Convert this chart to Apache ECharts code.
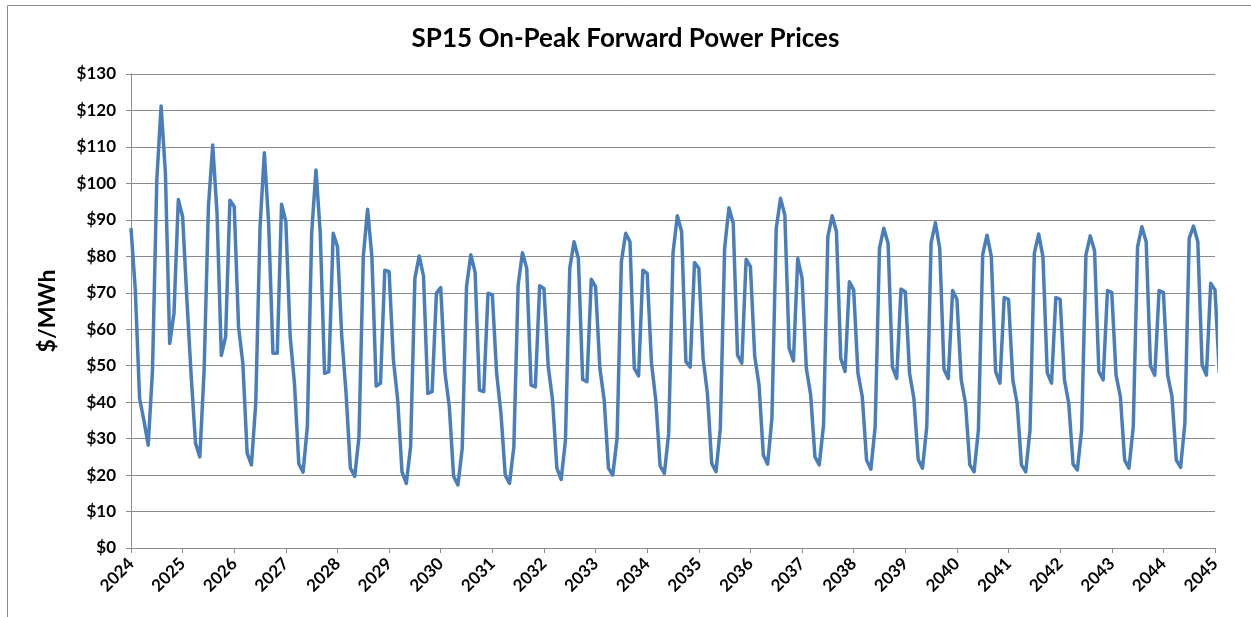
<!DOCTYPE html>
<html>
<head>
<meta charset="utf-8">
<title>SP15 On-Peak Forward Power Prices</title>
<script src="https://cdn.jsdelivr.net/npm/echarts@6/dist/echarts.min.js"></script>
<style>
  html, body { margin: 0; padding: 0; background: #fff; }
  #chart { width: 1251px; height: 617px; }
</style>
</head>
<body>
<div id="chart"></div>
<script>
const startYear = 2024
const endYear = 2045

// monthly on-peak prices, $/MWh, one row per year (Jan..Dec)
const monthlyPrices = [
  87.7, 70.8, 41.0, 35.0, 28.2, 48.8, 101.0, 121.2, 102.8, 56.1, 64.4, 95.6,  // 2024
  90.9, 68.0, 47.0, 28.7, 25.0, 48.8, 93.6, 110.5, 91.8, 52.8, 58.0, 95.4,    // 2025
  93.6, 60.7, 50.7, 26.0, 22.8, 39.7, 88.1, 108.4, 89.0, 53.4, 53.4, 94.3,    // 2026
  89.5, 58.0, 45.2, 23.2, 20.8, 33.3, 86.3, 103.7, 86.3, 47.9, 48.4, 86.3,    // 2027
  82.6, 58.0, 42.4, 21.9, 19.6, 30.5, 79.9, 92.9, 79.9, 44.4, 45.2, 76.2,     // 2028
  75.8, 51.6, 40.6, 20.9, 17.7, 27.8, 74.0, 80.1, 74.6, 42.4, 42.9, 69.9,     // 2029
  71.4, 47.9, 38.8, 19.6, 17.3, 27.3, 71.7, 80.4, 75.6, 43.3, 42.9, 69.9,     // 2030
  69.4, 47.9, 37.0, 20.0, 17.7, 27.8, 72.1, 81.0, 76.7, 44.7, 44.2, 71.9,     // 2031
  71.2, 49.7, 40.6, 21.9, 18.8, 29.6, 76.7, 84.0, 79.4, 46.2, 45.6, 73.7,     // 2032
  71.7, 49.3, 40.6, 21.9, 20.0, 30.1, 78.5, 86.3, 84.0, 49.3, 47.2, 76.2,     // 2033
  75.3, 50.7, 40.6, 22.5, 20.5, 31.5, 80.8, 91.1, 86.8, 51.1, 49.6, 78.3,     // 2034
  76.7, 52.0, 42.4, 23.2, 20.9, 32.8, 82.2, 93.3, 89.0, 52.9, 50.7, 79.2,     // 2035
  77.2, 52.5, 44.7, 25.5, 23.0, 35.6, 87.7, 95.9, 91.3, 54.8, 51.3, 79.4,     // 2036
  74.0, 49.3, 42.0, 25.0, 22.8, 33.7, 85.4, 91.1, 86.8, 52.0, 48.4, 73.0,     // 2037
  70.8, 47.9, 41.5, 24.1, 21.6, 33.3, 82.2, 87.7, 83.6, 49.7, 46.5, 71.0,     // 2038
  70.3, 47.9, 41.0, 24.3, 21.9, 33.3, 83.7, 89.2, 82.2, 49.0, 46.5, 70.6,     // 2039
  68.2, 46.1, 39.7, 22.8, 20.9, 32.4, 80.5, 85.8, 79.9, 48.4, 45.2, 68.7,     // 2040
  68.2, 46.1, 39.7, 22.8, 20.9, 32.4, 80.8, 86.1, 79.9, 48.1, 45.2, 68.7,     // 2041
  68.2, 46.1, 39.7, 23.0, 21.4, 32.4, 80.4, 85.6, 81.5, 48.4, 46.1, 70.6,     // 2042
  70.1, 47.4, 41.5, 24.1, 21.9, 33.3, 82.6, 88.1, 84.0, 49.9, 47.4, 70.6,     // 2043
  70.1, 47.4, 41.5, 24.1, 22.1, 34.2, 84.9, 88.3, 84.0, 50.2, 47.4, 72.6,     // 2044
  70.8, 48.0                                                                   // 2045
]

const yTicks = [0, 10, 20, 30, 40, 50, 60, 70, 80, 90, 100, 110, 120, 130]

const seriesData = monthlyPrices.map((v, i) => [i, v])
const gridGray = '#8c8c8c'
const fontFam = 'Lato, "Open Sans", sans-serif'

const chart = echarts.init(document.getElementById('chart'))
chart.setOption({
  animation: false,
  backgroundColor: '#fff',
  title: {
    text: 'SP15 On-Peak Forward Power Prices',
    left: 'center',
    top: 21,
    textStyle: { fontFamily: fontFam, fontWeight: 'bold', fontSize: 26, color: '#000' }
  },
  graphic: [{
    type: 'rect',
    shape: { x: 7.5, y: 5.5, width: 1400, height: 800 },
    style: { fill: 'none', stroke: gridGray, lineWidth: 1 },
    silent: true
  }],
  grid: { left: 131, right: 36, top: 74, bottom: 69 },
  xAxis: {
    type: 'value',
    min: 0,
    max: (endYear - startYear) * 12,
    interval: 12,
    splitLine: { show: false },
    axisLine: { show: true, lineStyle: { color: gridGray, width: 1 } },
    axisTick: { show: true, inside: false, length: 5, lineStyle: { color: gridGray } },
    axisLabel: {
      rotate: 45,
      margin: 13,
      hideOverlap: false,
      fontFamily: fontFam,
      fontWeight: 'bold',
      fontSize: 17,
      color: '#000',
      formatter: v => String(startYear + Math.round(v / 12))
    }
  },
  yAxis: {
    type: 'value',
    min: yTicks[0],
    max: yTicks[yTicks.length - 1],
    interval: 10,
    name: '$/MWh',
    nameLocation: 'middle',
    nameRotate: 90,
    nameGap: 72,
    nameTextStyle: { fontFamily: fontFam, fontWeight: 'bold', fontSize: 23, color: '#000' },
    axisLine: { show: true, lineStyle: { color: gridGray, width: 1 } },
    axisTick: { show: true, inside: false, length: 5, lineStyle: { color: gridGray } },
    splitLine: { show: true, lineStyle: { color: gridGray, width: 1 } },
    axisLabel: {
      margin: 15,
      fontFamily: fontFam,
      fontWeight: 'bold',
      fontSize: 17,
      color: '#000',
      formatter: v => '$' + v
    }
  },
  series: [{
    type: 'line',
    data: seriesData,
    showSymbol: false,
    clip: true,
    lineStyle: { color: '#4a7ebb', width: 3.5, join: 'round' },
    itemStyle: { color: '#4a7ebb' }
  }]
})
</script>
</body>
</html>
